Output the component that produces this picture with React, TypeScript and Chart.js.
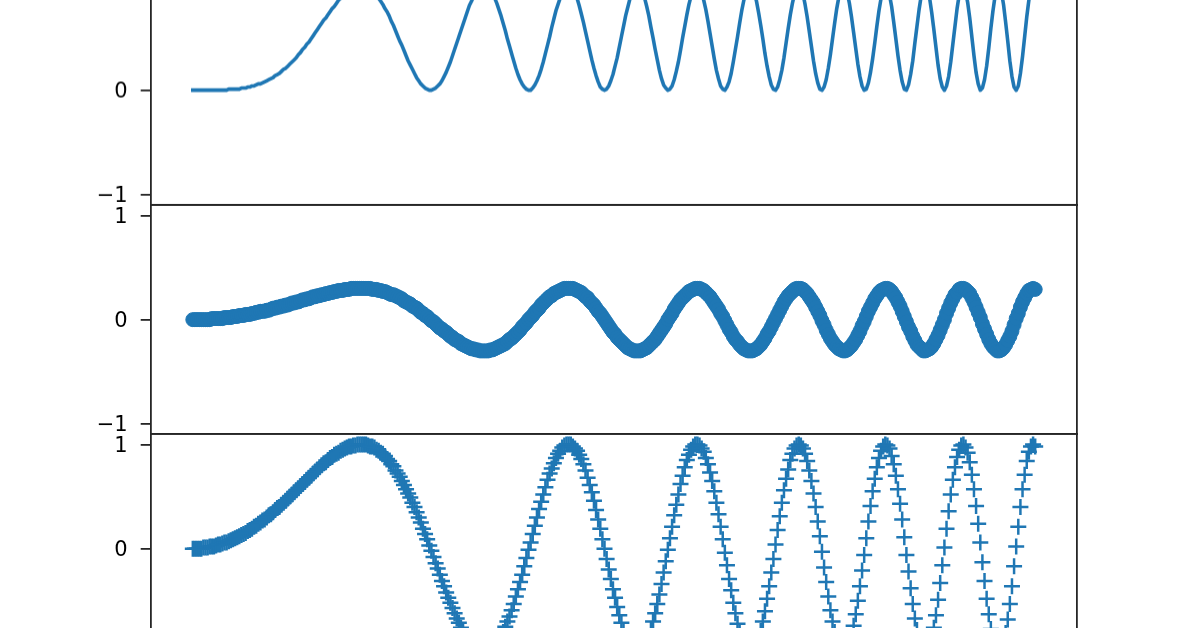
import React, { useEffect, useRef } from "react";
import { Chart, registerables } from "chart.js";

Chart.register(...registerables);

// sample grid on the shared x axis (0 .. 2π)
const X_START = 0;
const X_END = 6.2832;
const X_MIN = -0.3142;
const X_MAX = 6.5973;
const Y_MIN = -1.1;
const Y_MAX = 1.1;
const Y_TICKS = [-1, 0, 1];

// top panel: solid line
const TOP_SERIES = [
  0, 0, 0, 0, 0, 0, 0, 0, 0, 0,
  0, 0, 0, 0, 0, 0, 0, 0.01, 0.01, 0.01,
  0.01, 0.01, 0.01, 0.02, 0.02, 0.02, 0.03, 0.03, 0.04, 0.04,
  0.05, 0.06, 0.06, 0.07, 0.08, 0.09, 0.1, 0.11, 0.12, 0.14,
  0.15, 0.16, 0.18, 0.2, 0.21, 0.23, 0.25, 0.27, 0.29, 0.31,
  0.34, 0.36, 0.39, 0.41, 0.44, 0.46, 0.49, 0.52, 0.55, 0.58,
  0.61, 0.64, 0.67, 0.69, 0.72, 0.75, 0.78, 0.8, 0.83, 0.86,
  0.88, 0.9, 0.92, 0.94, 0.96, 0.97, 0.98, 0.99, 1.0, 1.0,
  1.0, 1.0, 0.99, 0.98, 0.97, 0.95, 0.93, 0.91, 0.88, 0.85,
  0.82, 0.78, 0.75, 0.71, 0.66, 0.62, 0.57, 0.52, 0.47, 0.43,
  0.38, 0.33, 0.28, 0.24, 0.2, 0.16, 0.12, 0.09, 0.06, 0.04,
  0.02, 0.01, 0.0, 0.0, 0.01, 0.02, 0.04, 0.06, 0.09, 0.13,
  0.17, 0.22, 0.27, 0.33, 0.39, 0.45, 0.51, 0.57, 0.63, 0.69,
  0.75, 0.81, 0.85, 0.9, 0.93, 0.96, 0.98, 1.0, 1.0, 0.99,
  0.98, 0.95, 0.92, 0.88, 0.83, 0.77, 0.71, 0.64, 0.57, 0.49,
  0.42, 0.35, 0.28, 0.21, 0.15, 0.1, 0.06, 0.03, 0.01, 0.0,
  0.0, 0.02, 0.05, 0.09, 0.14, 0.2, 0.27, 0.35, 0.43, 0.51,
  0.6, 0.68, 0.76, 0.82, 0.88, 0.93, 0.97, 0.99, 1.0, 0.99,
  0.97, 0.93, 0.88, 0.81, 0.73, 0.65, 0.56, 0.47, 0.38, 0.29,
  0.21, 0.14, 0.08, 0.03, 0.01, 0.0, 0.01, 0.04, 0.09, 0.15,
  0.23, 0.31, 0.41, 0.51, 0.61, 0.71, 0.79, 0.87, 0.93, 0.97,
  1.0, 1.0, 0.98, 0.94, 0.88, 0.8, 0.71, 0.6, 0.5, 0.39,
  0.29, 0.19, 0.11, 0.05, 0.02, 0.0, 0.01, 0.04, 0.1, 0.18,
  0.27, 0.38, 0.5, 0.61, 0.72, 0.82, 0.9, 0.96, 0.99, 1.0,
  0.98, 0.93, 0.86, 0.77, 0.66, 0.54, 0.42, 0.3, 0.19, 0.11,
  0.04, 0.01, 0.0, 0.03, 0.08, 0.16, 0.27, 0.39, 0.51, 0.64,
  0.76, 0.86, 0.94, 0.98, 1.0, 0.98, 0.93, 0.85, 0.74, 0.62,
  0.49, 0.35, 0.23, 0.13, 0.05, 0.01, 0.0, 0.03, 0.1, 0.19,
  0.31, 0.45, 0.59, 0.72, 0.83, 0.92, 0.98, 1.0, 0.98, 0.92,
  0.82, 0.7, 0.56, 0.42, 0.28, 0.16, 0.07, 0.01, 0.0, 0.03,
  0.1, 0.21, 0.34, 0.49, 0.64, 0.78, 0.89, 0.96, 1.0, 0.99,
  0.93, 0.83, 0.7, 0.55, 0.4, 0.25, 0.13, 0.04, 0.0, 0.01,
  0.07, 0.17, 0.3, 0.45, 0.61, 0.76, 0.88, 0.97, 1.0, 0.98,
  0.91, 0.8, 0.65, 0.49, 0.33, 0.19, 0.08, 0.01, 0.0, 0.05,
  0.15, 0.28, 0.45, 0.61, 0.77, 0.9, 0.97, 1.0, 0.97, 0.88,
  0.74, 0.58, 0.41, 0.24, 0.11, 0.03, 0.0, 0.04, 0.13, 0.27,
  0.44, 0.61, 0.78, 0.91, 0.98, 1.0, 0.95, 0.84, 0.69, 0.51,
  0.33, 0.17, 0.06, 0.0, 0.02, 0.1, 0.23, 0.4, 0.59, 0.76,
  0.9, 0.98, 1.0, 0.94, 0.82, 0.65, 0.47, 0.28, 0.13, 0.03,
  0.0, 0.04, 0.16, 0.32, 0.51, 0.7, 0.86, 0.97, 1.0, 0.96,
];

// middle panel: circle markers
const MIDDLE_SERIES = [
  0, 0, 0, 0, 0, 0, 0, 0, 0, 0.01,
  0.01, 0.01, 0.01, 0.01, 0.01, 0.02, 0.02, 0.02, 0.02, 0.03,
  0.03, 0.03, 0.04, 0.04, 0.04, 0.05, 0.05, 0.05, 0.06, 0.06,
  0.07, 0.07, 0.08, 0.08, 0.08, 0.09, 0.09, 0.1, 0.11, 0.11,
  0.12, 0.12, 0.13, 0.13, 0.14, 0.14, 0.15, 0.16, 0.16, 0.17,
  0.17, 0.18, 0.19, 0.19, 0.2, 0.2, 0.21, 0.22, 0.22, 0.23,
  0.23, 0.24, 0.24, 0.25, 0.25, 0.26, 0.26, 0.27, 0.27, 0.28,
  0.28, 0.28, 0.29, 0.29, 0.29, 0.3, 0.3, 0.3, 0.3, 0.3,
  0.3, 0.3, 0.3, 0.3, 0.3, 0.29, 0.29, 0.29, 0.28, 0.28,
  0.27, 0.27, 0.26, 0.25, 0.24, 0.24, 0.23, 0.22, 0.21, 0.2,
  0.18, 0.17, 0.16, 0.15, 0.13, 0.12, 0.11, 0.09, 0.07, 0.06,
  0.04, 0.03, 0.01, -0.01, -0.02, -0.04, -0.06, -0.08, -0.09, -0.11,
  -0.12, -0.14, -0.16, -0.17, -0.19, -0.2, -0.21, -0.23, -0.24, -0.25,
  -0.26, -0.27, -0.28, -0.28, -0.29, -0.29, -0.3, -0.3, -0.3, -0.3,
  -0.3, -0.29, -0.29, -0.28, -0.27, -0.26, -0.25, -0.24, -0.23, -0.21,
  -0.19, -0.18, -0.16, -0.14, -0.12, -0.1, -0.07, -0.05, -0.03, 0.0,
  0.02, 0.04, 0.07, 0.09, 0.11, 0.14, 0.16, 0.18, 0.2, 0.22,
  0.23, 0.25, 0.26, 0.27, 0.28, 0.29, 0.3, 0.3, 0.3, 0.3,
  0.3, 0.29, 0.28, 0.27, 0.26, 0.24, 0.22, 0.21, 0.18, 0.16,
  0.14, 0.11, 0.08, 0.06, 0.03, 0.0, -0.03, -0.06, -0.09, -0.12,
  -0.14, -0.17, -0.19, -0.21, -0.23, -0.25, -0.27, -0.28, -0.29, -0.3,
  -0.3, -0.3, -0.3, -0.29, -0.28, -0.27, -0.25, -0.23, -0.21, -0.19,
  -0.16, -0.13, -0.1, -0.07, -0.04, 0.0, 0.03, 0.06, 0.1, 0.13,
  0.16, 0.19, 0.21, 0.23, 0.25, 0.27, 0.28, 0.29, 0.3, 0.3,
  0.3, 0.29, 0.28, 0.26, 0.24, 0.22, 0.19, 0.16, 0.13, 0.1,
  0.06, 0.03, -0.01, -0.05, -0.09, -0.12, -0.16, -0.19, -0.21, -0.24,
  -0.26, -0.28, -0.29, -0.3, -0.3, -0.3, -0.29, -0.28, -0.26, -0.24,
  -0.21, -0.18, -0.14, -0.11, -0.07, -0.03, 0.01, 0.05, 0.09, 0.13,
  0.17, 0.2, 0.23, 0.25, 0.27, 0.29, 0.3, 0.3, 0.3, 0.29,
  0.27, 0.25, 0.22, 0.19, 0.16, 0.12, 0.08, 0.04, -0.01, -0.05,
  -0.1, -0.14, -0.18, -0.21, -0.24, -0.26, -0.28, -0.29, -0.3, -0.3,
  -0.29, -0.27, -0.25, -0.22, -0.19, -0.15, -0.11, -0.06, -0.02, 0.03,
  0.08, 0.12, 0.16, 0.2, 0.23, 0.26, 0.28, 0.29, 0.3, 0.3,
  0.29, 0.27, 0.24, 0.21, 0.17, 0.13, 0.08, 0.03, -0.02, -0.07,
  -0.11, -0.16, -0.2, -0.24, -0.26, -0.28, -0.3, -0.3, -0.29, -0.28,
  -0.26, -0.23, -0.19, -0.15, -0.1, -0.05, 0.0, 0.06, 0.11, 0.16,
  0.2, 0.24, 0.26, 0.29, 0.3, 0.3, 0.29, 0.27, 0.25, 0.21,
  0.17, 0.12, 0.07, 0.02, -0.04, -0.09, -0.14, -0.19, -0.23, -0.26,
  -0.28, -0.3, -0.3, -0.29, -0.27, -0.24, -0.2, -0.16, -0.11, -0.05,
  0.01, 0.06, 0.12, 0.17, 0.21, 0.25, 0.28, 0.29, 0.3, 0.29,
];

// bottom panel: plus markers
const BOTTOM_SERIES = [
  0, 0, 0, 0, 0, 0.01, 0.01, 0.01, 0.02, 0.02,
  0.02, 0.03, 0.04, 0.04, 0.05, 0.06, 0.06, 0.07, 0.08, 0.09,
  0.1, 0.11, 0.12, 0.13, 0.14, 0.15, 0.17, 0.18, 0.19, 0.21,
  0.22, 0.24, 0.25, 0.27, 0.28, 0.3, 0.32, 0.33, 0.35, 0.37,
  0.39, 0.4, 0.42, 0.44, 0.46, 0.48, 0.5, 0.52, 0.54, 0.56,
  0.58, 0.6, 0.62, 0.64, 0.66, 0.68, 0.7, 0.72, 0.74, 0.76,
  0.78, 0.8, 0.82, 0.83, 0.85, 0.87, 0.88, 0.9, 0.91, 0.92,
  0.94, 0.95, 0.96, 0.97, 0.98, 0.98, 0.99, 0.99, 1.0, 1.0,
  1.0, 1.0, 1.0, 0.99, 0.98, 0.98, 0.97, 0.95, 0.94, 0.92,
  0.91, 0.89, 0.86, 0.84, 0.81, 0.79, 0.75, 0.72, 0.69, 0.65,
  0.61, 0.57, 0.53, 0.49, 0.44, 0.4, 0.35, 0.3, 0.25, 0.19,
  0.14, 0.09, 0.03, -0.02, -0.08, -0.14, -0.19, -0.25, -0.31, -0.36,
  -0.42, -0.47, -0.52, -0.57, -0.62, -0.67, -0.71, -0.76, -0.8, -0.83,
  -0.87, -0.9, -0.92, -0.95, -0.97, -0.98, -0.99, -1.0, -1.0, -1.0,
  -0.99, -0.98, -0.96, -0.94, -0.91, -0.88, -0.84, -0.8, -0.75, -0.7,
  -0.65, -0.59, -0.53, -0.46, -0.39, -0.32, -0.25, -0.17, -0.09, -0.01,
  0.06, 0.14, 0.22, 0.3, 0.38, 0.45, 0.52, 0.59, 0.66, 0.72,
  0.77, 0.82, 0.87, 0.91, 0.94, 0.97, 0.99, 1.0, 1.0, 1.0,
  0.98, 0.96, 0.94, 0.9, 0.86, 0.81, 0.75, 0.68, 0.61, 0.54,
  0.46, 0.37, 0.28, 0.19, 0.09, 0.0, -0.1, -0.2, -0.29, -0.39,
  -0.47, -0.56, -0.64, -0.71, -0.78, -0.84, -0.89, -0.93, -0.96, -0.99,
  -1.0, -1.0, -0.99, -0.97, -0.94, -0.89, -0.84, -0.78, -0.7, -0.62,
  -0.53, -0.44, -0.34, -0.23, -0.12, -0.01, 0.1, 0.21, 0.32, 0.42,
  0.52, 0.62, 0.7, 0.78, 0.85, 0.9, 0.95, 0.98, 1.0, 1.0,
  0.99, 0.96, 0.93, 0.87, 0.81, 0.73, 0.65, 0.55, 0.44, 0.33,
  0.21, 0.09, -0.04, -0.16, -0.29, -0.4, -0.52, -0.62, -0.72, -0.8,
  -0.87, -0.93, -0.97, -0.99, -1.0, -0.99, -0.96, -0.92, -0.86, -0.79,
  -0.7, -0.6, -0.48, -0.36, -0.23, -0.1, 0.04, 0.18, 0.31, 0.44,
  0.56, 0.67, 0.76, 0.85, 0.91, 0.96, 0.99, 1.0, 0.99, 0.96,
  0.91, 0.84, 0.75, 0.65, 0.53, 0.4, 0.26, 0.12, -0.03, -0.18,
  -0.32, -0.46, -0.59, -0.7, -0.8, -0.88, -0.94, -0.98, -1.0, -0.99,
  -0.96, -0.91, -0.84, -0.74, -0.63, -0.5, -0.36, -0.21, -0.06, 0.1,
  0.26, 0.41, 0.55, 0.67, 0.78, 0.87, 0.94, 0.98, 1.0, 0.99,
  0.96, 0.89, 0.81, 0.7, 0.57, 0.43, 0.28, 0.11, -0.06, -0.22,
  -0.38, -0.53, -0.67, -0.78, -0.88, -0.95, -0.99, -1.0, -0.98, -0.94,
  -0.86, -0.76, -0.64, -0.49, -0.33, -0.16, 0.01, 0.19, 0.36, 0.52,
  0.66, 0.78, 0.88, 0.95, 0.99, 1.0, 0.97, 0.92, 0.83, 0.71,
  0.57, 0.41, 0.24, 0.06, -0.13, -0.31, -0.48, -0.63, -0.77, -0.87,
  -0.95, -0.99, -1.0, -0.97, -0.91, -0.81, -0.68, -0.53, -0.36, -0.17,
  0.02, 0.21, 0.4, 0.57, 0.71, 0.84, 0.93, 0.98, 1.0, 0.98,
];

const BLUE = "#1f77b4";
const AXIS_COLOR = "#262626";
const PAGE_W = 1196;
const PAGE_H = 628;
const PLOT_LEFT = 150.7;
const PLOT_RIGHT = 1077.3;
const PANEL_H = 229.3;
const PAD = 30;
const PANEL_TOPS = [-24.6, 204.7, 434];

type Kind = "line" | "circle" | "plus";

function toPoints(values: number[]) {
  const n = values.length;
  return values.map((y, i) => ({
    x: X_START + ((X_END - X_START) * i) / (n - 1),
    y,
  }));
}

function makeDataset(kind: Kind) {
  const base = { xAxisID: "x", yAxisID: "y" };
  if (kind === "line") {
    return {
      ...base,
      data: toPoints(TOP_SERIES),
      borderColor: BLUE,
      borderWidth: 3.6,
      pointRadius: 0,
      tension: 0,
      borderCapStyle: "square" as const,
      borderJoinStyle: "round" as const,
      showLine: true,
    };
  }
  if (kind === "circle") {
    return {
      ...base,
      data: toPoints(MIDDLE_SERIES),
      showLine: false,
      pointStyle: "circle" as const,
      pointRadius: 7,
      pointBackgroundColor: BLUE,
      pointBorderColor: BLUE,
      pointBorderWidth: 1,
    };
  }
  return {
    ...base,
    data: toPoints(BOTTOM_SERIES),
    showLine: false,
    pointStyle: "cross" as const,
    pointRadius: 8,
    pointBackgroundColor: BLUE,
    pointBorderColor: BLUE,
    pointBorderWidth: 2.5,
  };
}

function Panel({ kind, plotTop }: { kind: Kind; plotTop: number }) {
  const ref = useRef<HTMLCanvasElement | null>(null);

  useEffect(() => {
    if (!ref.current) return;
    const hiddenAxis = (position: string, axis: string) => ({
      type: "linear" as const,
      position,
      axis,
      min: 0,
      max: 1,
      ticks: { display: false },
      grid: { display: false, drawTicks: false },
      border: { display: true, color: AXIS_COLOR, width: 1.8 },
    });
    const chart = new Chart(ref.current, {
      type: "line",
      data: { datasets: [makeDataset(kind) as any] },
      options: {
        animation: false,
        responsive: true,
        maintainAspectRatio: false,
        events: [],
        layout: {
          padding: { top: PAD, bottom: PAD, left: 0, right: PAGE_W - PLOT_RIGHT },
        },
        plugins: {
          legend: { display: false },
          tooltip: { enabled: false },
          title: { display: false },
        },
        scales: {
          x: {
            type: "linear",
            position: "bottom",
            min: X_MIN,
            max: X_MAX,
            ticks: { display: false },
            grid: { display: false, drawTicks: false },
            border: { display: true, color: AXIS_COLOR, width: 1.8 },
          },
          y: {
            type: "linear",
            position: "left",
            min: Y_MIN,
            max: Y_MAX,
            afterBuildTicks: (scale: any) => {
              scale.ticks = Y_TICKS.map((v) => ({ value: v }));
            },
            afterFit: (scale: any) => {
              scale.width = PLOT_LEFT;
            },
            ticks: {
              color: "#000",
              padding: 13,
              labelOffset: 2,
              font: { family: "'DejaVu Sans', sans-serif", size: 21 },
              callback: (v: any) =>
                Number(v) < 0 ? "\u2212" + Math.abs(Number(v)) : String(v),
            },
            grid: {
              display: true,
              drawOnChartArea: false,
              drawTicks: true,
              tickLength: 10,
              color: AXIS_COLOR,
              lineWidth: 1.8,
            },
            border: { display: true, color: AXIS_COLOR, width: 1.8 },
          },
          xTop: hiddenAxis("top", "x") as any,
          yRight: hiddenAxis("right", "y") as any,
        },
      } as any,
    });
    return () => chart.destroy();
  }, [kind]);

  return (
    <div
      style={{
        position: "absolute",
        left: 0,
        top: plotTop - PAD,
        width: PAGE_W,
        height: PANEL_H + 2 * PAD,
      }}
    >
      <canvas ref={ref} />
    </div>
  );
}

export default function App() {
  const kinds: Kind[] = ["line", "circle", "plus"];
  return (
    <div
      style={{
        position: "fixed",
        left: 0,
        top: 0,
        width: PAGE_W,
        height: PAGE_H,
        overflow: "hidden",
        background: "#ffffff",
      }}
    >
      {kinds.map((k, i) => (
        <Panel key={k} kind={k} plotTop={PANEL_TOPS[i]} />
      ))}
    </div>
  );
}
